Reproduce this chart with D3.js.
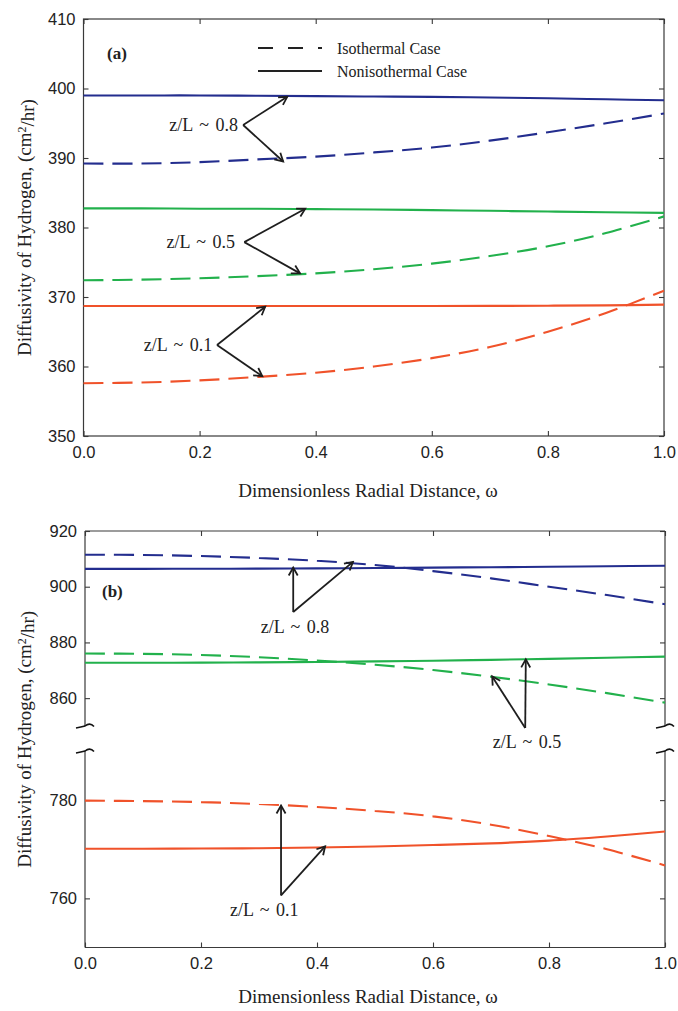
<!DOCTYPE html>
<html>
<head>
<meta charset="utf-8">
<script src="https://cdn.jsdelivr.net/npm/d3@7"></script>
<style>
  html, body { margin: 0; padding: 0; background: #fff; }
  svg { display: block; }
</style>
</head>
<body>
<div id="chart"></div>
<script>
// ---------------- DATA ----------------
const omega = [0, 0.1, 0.2, 0.3, 0.4, 0.5, 0.6, 0.7, 0.8, 0.9, 1.0];
const xTicks = [0, 0.2, 0.4, 0.6, 0.8, 1.0];

// Panel (a)
const aIso08 = [389.2, 389.2, 389.4, 389.8, 390.2, 390.8, 391.5, 392.5, 393.7, 395.0, 396.4];
const aNon08 = [399.0, 399.0, 399.0, 398.95, 398.9, 398.85, 398.8, 398.7, 398.6, 398.45, 398.3];
const aIso05 = [372.4, 372.5, 372.7, 373.0, 373.4, 374.0, 374.8, 375.9, 377.3, 379.2, 381.6];
const aNon05 = [382.75, 382.75, 382.7, 382.7, 382.65, 382.6, 382.5, 382.4, 382.3, 382.2, 382.1];
const aIso01 = [357.6, 357.7, 358.0, 358.5, 359.1, 360.0, 361.2, 362.8, 365.0, 367.7, 370.9];
const aNon01 = [368.7, 368.7, 368.7, 368.7, 368.7, 368.7, 368.7, 368.72, 368.75, 368.8, 368.9];
const aYTicks = [350, 360, 370, 380, 390, 400, 410];

// Panel (b)
const bIso08 = [911.5, 911.4, 911.0, 910.3, 909.3, 907.8, 905.6, 903.0, 900.0, 897.0, 893.7];
const bNon08 = [906.4, 906.4, 906.45, 906.5, 906.6, 906.7, 906.85, 907.0, 907.15, 907.35, 907.55];
const bIso05 = [876.0, 875.9, 875.5, 874.7, 873.5, 872.0, 870.1, 867.7, 864.9, 861.8, 858.4];
const bNon05 = [872.7, 872.7, 872.75, 872.85, 873.0, 873.2, 873.45, 873.75, 874.1, 874.5, 874.9];
const bIso01 = [779.9, 779.8, 779.6, 779.2, 778.6, 777.8, 776.7, 775.0, 772.7, 770.0, 766.7];
const bNon01 = [770.1, 770.1, 770.15, 770.2, 770.35, 770.55, 770.85, 771.2, 771.75, 772.6, 773.6];
const bYTicksUpper = [860, 880, 900, 920];
const bYTicksLower = [760, 780];

const caseLabels = ["Isothermal Case", "Nonisothermal Case"];

// annotations: label, label pos, vertex, arrow tips (data units)
const aNotes = [
  { text: "z/L ~ 0.8", lx: 0.266, ly: 394.75, vx: 0.275, vy: 394.75, tips: [[0.351, 398.8], [0.344, 389.5]] },
  { text: "z/L ~ 0.5", lx: 0.261, ly: 377.9, vx: 0.277, vy: 377.9, tips: [[0.382, 382.7], [0.373, 373.4]] },
  { text: "z/L ~ 0.1", lx: 0.222, ly: 363.1, vx: 0.230, vy: 363.1, tips: [[0.313, 368.6], [0.308, 358.6]] }
];
const bNotesUpper = [
  { text: "z/L ~ 0.8", lx: 0.362, ly: 885.6, vx: 0.359, vy: 890.9, tips: [[0.359, 906.9], [0.462, 908.9]] },
  { text: "z/L ~ 0.5", lx: 0.762, ly: 844.2, vx: 0.759, vy: 849.3, tips: [[0.760, 873.9], [0.702, 867.8]] }
];
const bNotesLower = [
  { text: "z/L ~ 0.1", lx: 0.309, ly: 757.6, vx: 0.338, vy: 760.6, tips: [[0.338, 778.9], [0.414, 770.6]] }
];

// ---------------- STYLE ----------------
const W = 678, H = 1011;
const BLUE = "#232d8e", GREEN = "#22b14c", RED = "#f0522a";
const AXIS = "#3a3a3a", INK = "#1e1e1e";
const DASH = "20,9";
const SANS = "'Liberation Sans', Arial, sans-serif";
const SERIF = "'Liberation Serif', 'Times New Roman', serif";

const svg = d3.select("#chart").append("svg")
  .attr("width", W).attr("height", H)
  .style("background", "#fff");

const defs = svg.append("defs");
defs.append("marker")
  .attr("id", "arr")
  .attr("markerUnits", "userSpaceOnUse")
  .attr("viewBox", "-10 -6 12 12")
  .attr("refX", 0).attr("refY", 0)
  .attr("markerWidth", 12).attr("markerHeight", 12)
  .attr("orient", "auto")
  .append("path")
  .attr("d", "M-8,-4.5 L0,0 L-8,4.5")
  .attr("fill", "none").attr("stroke", INK).attr("stroke-width", 1.8)
  .attr("stroke-linejoin", "miter");

function styleAxis(g) {
  g.selectAll("path.domain").remove();
  g.selectAll("line").attr("stroke", AXIS).attr("stroke-width", 1.1);
  g.selectAll("text").attr("fill", "#222").style("font-family", SANS).style("font-size", "16.5px");
}

function drawCurve(g, x, y, vals, color, dashed) {
  const line = d3.line().x((d, i) => x(omega[i])).y(d => y(d)).curve(d3.curveCatmullRom.alpha(0.5));
  g.append("path").datum(vals)
    .attr("d", line)
    .attr("fill", "none")
    .attr("stroke", color)
    .attr("stroke-width", 2.1)
    .attr("stroke-dasharray", dashed ? DASH : null);
}

function drawNote(g, x, y, n, anchor) {
  n.tips.forEach(t => {
    g.append("line")
      .attr("x1", x(n.vx)).attr("y1", y(n.vy))
      .attr("x2", x(t[0])).attr("y2", y(t[1]))
      .attr("stroke", INK).attr("stroke-width", 1.8)
      .attr("marker-end", "url(#arr)");
  });
  g.append("text")
    .attr("x", x(n.lx)).attr("y", y(n.ly))
    .attr("dy", "0.35em")
    .attr("text-anchor", anchor)
    .style("font-family", SERIF).style("font-size", "18px")
    .style("word-spacing", "2px")
    .attr("fill", "#222")
    .text(n.text);
}

function yTitle(cx, cy) {
  const t = svg.append("text")
    .attr("transform", `translate(${cx},${cy}) rotate(-90)`)
    .attr("text-anchor", "middle")
    .style("font-family", SERIF).style("font-size", "19px")
    .attr("fill", "#222");
  t.append("tspan").text("Diffusivity of Hydrogen, (cm");
  t.append("tspan").attr("dy", "-0.45em").style("font-size", "12px").text("2");
  t.append("tspan").attr("dy", "0.45em").text("/hr)");
}

function xTitle(cx, y) {
  svg.append("text")
    .attr("x", cx).attr("y", y)
    .attr("text-anchor", "middle")
    .style("font-family", SERIF).style("font-size", "19px")
    .attr("fill", "#222")
    .text("Dimensionless Radial Distance, \u03c9");
}

// ---------------- PANEL (a) ----------------
{
  const L = 83.5, R = 664, T = 19, B = 436;
  const x = d3.scaleLinear().domain([0, 1]).range([L, R]);
  const y = d3.scaleLinear().domain([350, 410]).range([B, T]);
  const g = svg.append("g");

  g.append("g").attr("transform", `translate(0,${B})`)
    .call(d3.axisBottom(x).tickValues(xTicks).tickFormat(d3.format(".1f")).tickSizeInner(-5).tickSizeOuter(0).tickPadding(10))
    .call(styleAxis);
  g.append("g").attr("transform", `translate(0,${T})`)
    .call(d3.axisTop(x).tickValues(xTicks).tickFormat("").tickSizeInner(-5).tickSizeOuter(0))
    .call(styleAxis);
  g.append("g").attr("transform", `translate(${L},0)`)
    .call(d3.axisLeft(y).tickValues(aYTicks).tickSizeInner(-5).tickSizeOuter(0).tickPadding(8))
    .call(styleAxis);
  g.append("g").attr("transform", `translate(${R},0)`)
    .call(d3.axisRight(y).tickValues(aYTicks).tickFormat("").tickSizeInner(-5).tickSizeOuter(0))
    .call(styleAxis);
  g.append("rect").attr("x", L).attr("y", T).attr("width", R - L).attr("height", B - T)
    .attr("fill", "none").attr("stroke", AXIS).attr("stroke-width", 1.2);

  drawCurve(g, x, y, aNon08, BLUE, false);
  drawCurve(g, x, y, aIso08, BLUE, true);
  drawCurve(g, x, y, aNon05, GREEN, false);
  drawCurve(g, x, y, aIso05, GREEN, true);
  drawCurve(g, x, y, aNon01, RED, false);
  drawCurve(g, x, y, aIso01, RED, true);

  aNotes.forEach(n => drawNote(g, x, y, n, "end"));

  // panel label
  g.append("text").attr("x", 107).attr("y", 59)
    .style("font-family", SERIF).style("font-size", "17px").style("font-weight", "bold")
    .attr("fill", "#222").text("(a)");

  // legend
  const lg = g.append("g");
  [0, 1].forEach(i => {
    const yy = 48 + i * 23;
    lg.append("line").attr("x1", 258).attr("x2", 322).attr("y1", yy).attr("y2", yy)
      .attr("stroke", "#222").attr("stroke-width", 2)
      .attr("stroke-dasharray", i === 0 ? "15,15" : null);
    lg.append("text").attr("x", 337).attr("y", yy).attr("dy", "0.35em")
      .style("font-family", SERIF).style("font-size", "16px").attr("fill", "#222")
      .text(caseLabels[i]);
  });

  yTitle(31, (T + B) / 2);
  xTitle(368, 497);
}

// ---------------- PANEL (b) ----------------
{
  const L = 85, R = 665, T = 531, B = 947.5;
  const breakTop = 726, breakBot = 751;
  const x = d3.scaleLinear().domain([0, 1]).range([L, R]);
  const yU = d3.scaleLinear().domain([850, 920]).range([breakTop, T]);
  const yL = d3.scaleLinear().domain([750, 790]).range([B, breakBot]);
  const g = svg.append("g");

  g.append("g").attr("transform", `translate(0,${B})`)
    .call(d3.axisBottom(x).tickValues(xTicks).tickFormat(d3.format(".1f")).tickSizeInner(-5).tickSizeOuter(0).tickPadding(10))
    .call(styleAxis);
  g.append("g").attr("transform", `translate(0,${T})`)
    .call(d3.axisTop(x).tickValues(xTicks).tickFormat("").tickSizeInner(-5).tickSizeOuter(0))
    .call(styleAxis);
  [[yU, bYTicksUpper], [yL, bYTicksLower]].forEach(([ys, tv]) => {
    g.append("g").attr("transform", `translate(${L},0)`)
      .call(d3.axisLeft(ys).tickValues(tv).tickSizeInner(-5).tickSizeOuter(0).tickPadding(8))
      .call(styleAxis);
    g.append("g").attr("transform", `translate(${R},0)`)
      .call(d3.axisRight(ys).tickValues(tv).tickFormat("").tickSizeInner(-5).tickSizeOuter(0))
      .call(styleAxis);
  });

  // frame with broken vertical axes
  const fr = g.append("g").attr("stroke", AXIS).attr("stroke-width", 1.2).attr("fill", "none");
  fr.append("line").attr("x1", L).attr("x2", R).attr("y1", T).attr("y2", T);
  fr.append("line").attr("x1", L).attr("x2", R).attr("y1", B).attr("y2", B);
  [L, R].forEach(xx => {
    fr.append("line").attr("x1", xx).attr("x2", xx).attr("y1", T).attr("y2", breakTop);
    fr.append("line").attr("x1", xx).attr("x2", xx).attr("y1", breakBot).attr("y2", B);
    [breakTop, breakBot].forEach(yy => {
      fr.append("path")
        .attr("d", `M${xx - 9},${yy + 2} Q${xx - 4},${yy + 1} ${xx},${yy} Q${xx + 5},${yy - 4} ${xx + 9},${yy + 0.5}`)
        .attr("stroke", "#111").attr("stroke-width", 1.6);
    });
  });

  drawCurve(g, x, yU, bNon08, BLUE, false);
  drawCurve(g, x, yU, bIso08, BLUE, true);
  drawCurve(g, x, yU, bNon05, GREEN, false);
  drawCurve(g, x, yU, bIso05, GREEN, true);
  drawCurve(g, x, yL, bNon01, RED, false);
  drawCurve(g, x, yL, bIso01, RED, true);

  bNotesUpper.forEach(n => drawNote(g, x, yU, n, "middle"));
  bNotesLower.forEach(n => drawNote(g, x, yL, n, "middle"));

  g.append("text").attr("x", 102).attr("y", 597)
    .style("font-family", SERIF).style("font-size", "17px").style("font-weight", "bold")
    .attr("fill", "#222").text("(b)");

  yTitle(31, (T + B) / 2);
  xTitle(368, 1003);
}
</script>
</body>
</html>
